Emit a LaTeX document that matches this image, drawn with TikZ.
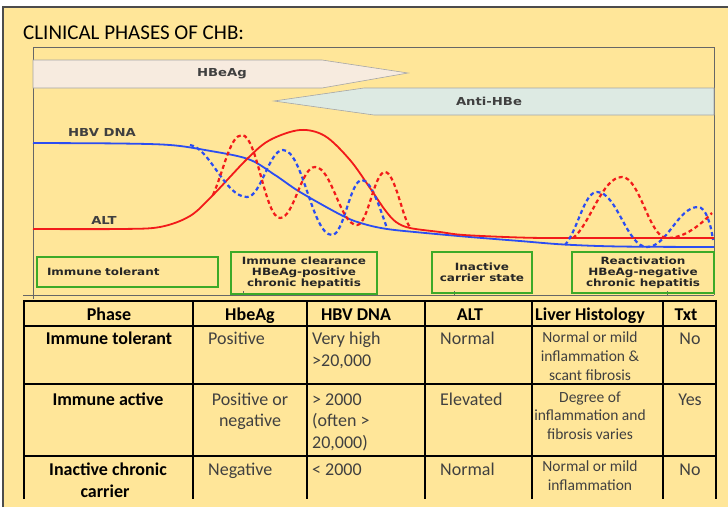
\documentclass[tikz,border=0pt]{standalone}
\usepackage{fontspec}
\setmainfont{Carlito}
\newfontfamily\chartfont[FakeStretch=1.2]{DejaVu Sans}
\definecolor{bgyellow}{HTML}{FFE699}
\definecolor{hbeagfill}{HTML}{F7EBDF}
\definecolor{antifill}{HTML}{DDEAE3}
\definecolor{dnablue}{HTML}{2B4DF2}
\definecolor{altred}{HTML}{F21A1A}
\definecolor{gboxc}{HTML}{3CAA28}
\begin{document}
\begin{tikzpicture}[x=1pt,y=-1pt,
  frame/.style={draw=black!60,line width=0.9pt},
  lbl/.style={font=\chartfont\bfseries\fontsize{11}{13}\selectfont,text=black!75,inner sep=0pt},
  gbox/.style={draw=gboxc,line width=2.5pt,font=\chartfont\bfseries\fontsize{10}{11}\selectfont,text=black!85,align=center,inner sep=0pt},
  dnaline/.style={draw=dnablue,line width=1.8pt},
  altline/.style={draw=altred,line width=1.8pt},
  dnadash/.style={draw=dnablue,line width=2.2pt,dash pattern=on 4pt off 3pt},
  altdash/.style={draw=altred,line width=2.2pt,dash pattern=on 4pt off 3pt},
  tline/.style={draw=black,line width=2pt},
  th/.style={font=\bfseries\fontsize{18}{20}\selectfont,text=black,anchor=base,inner sep=0pt},
  td/.style={font=\fontsize{18}{20}\selectfont,text=black!75,anchor=base west,inner sep=0pt},
  tdc/.style={font=\fontsize{18}{20}\selectfont,text=black!75,anchor=base,inner sep=0pt},
  lh/.style={font=\fontsize{15.5}{19}\selectfont,text=black!75,anchor=base,inner sep=0pt}
]
\useasboundingbox (0,0) rectangle (728,507);
\fill[white] (0,0) rectangle (728,507);
\fill[bgyellow] (3,7) rectangle (728,507);
\draw[black!70,line width=1.2pt] (3,507) -- (3,7) -- (728,7);

\node[anchor=base west,inner sep=0pt,font=\fontsize{21}{25}\selectfont] (title) at (23,39) {CLINICAL PHASES OF CHB:};

% chart frame
\draw[frame] (33,299) -- (33,47) -- (714,47) -- (714,295);
\draw[frame] (23,295) -- (714,295);
\foreach \tx in {243,454,667} \draw[frame] (\tx,295) -- (\tx,291);

% serology bars
\draw[fill=hbeagfill,draw=black!35,line width=0.6pt] (33,60) -- (322,60) -- (408,73) -- (322,88) -- (33,88) -- cycle;
\node[lbl] (hbeag) at (222,74) {HBeAg};
\draw[fill=antifill,draw=black!35,line width=0.6pt] (714,88) -- (364,88) -- (274,101) -- (374,115) -- (714,115) -- cycle;
\node[lbl] (anti) at (489,101) {Anti-HBe};

% curves
\draw[dnaline] plot[smooth,tension=0.55] coordinates {(33,143) (120,143.5) (170,145) (205,150) (248,159) (275,175) (300,192) (343,216) (364,224) (387,229) (420,232.5) (470,237) (520,241) (564,244.5) (620,246.5) (714,247)};
\draw[altline] plot[smooth,tension=0.55] coordinates {(33,229) (120,229) (160,227) (190,216) (213,195) (248,158) (270,140) (300,130) (325,136) (350,160) (370,188) (385,210) (396,222) (410,228) (440,232) (464,235) (520,237.5) (564,238) (714,238)};

\draw[dnadash] (190,145) .. controls (210,148) and (225,197) .. (247,197)
  .. controls (261,197) and (269,150) .. (283,150)
  .. controls (303,150) and (312,235) .. (332,235)
  .. controls (344,235) and (350,180) .. (362,180)
  .. controls (372,180) and (382,215) .. (387,228);
\draw[altdash] (213,195) .. controls (224,170) and (230,135) .. (242,135)
  .. controls (257,135) and (265,218) .. (280,218)
  .. controls (294,218) and (301,167) .. (315,167)
  .. controls (332,167) and (340,225) .. (357,225)
  .. controls (368,225) and (374,172) .. (385,172)
  .. controls (395,172) and (403,220) .. (410,227);

\draw[dnadash] (565,245) .. controls (578,230) and (584,192) .. (597,192)
  .. controls (617,192) and (627,247) .. (647,247)
  .. controls (667,247) and (678,207) .. (698,207)
  .. controls (706,207) and (711,225) .. (713,240);
\draw[altdash] (573,238) .. controls (590,225) and (602,177) .. (622,177)
  .. controls (640,177) and (649,238) .. (667,238)
  .. controls (685,238) and (700,225) .. (712,213);

\node[lbl] (dnalbl) at (102,132) {HBV DNA};
\node[lbl] (altlbl) at (104,220) {ALT};

% phase boxes
\node[gbox,minimum width=181pt,minimum height=30pt,text width=161pt,align=left] (p1) at (127.5,272) {Immune tolerant};
\node[gbox,minimum width=146pt,minimum height=42pt] (p2) at (304,273) {Immune clearance\\HBeAg-positive\\chronic hepatitis};
\node[gbox,minimum width=100pt,minimum height=41pt] (p3) at (482,272.5) {Inactive\\carrier state};
\node[gbox,minimum width=142pt,minimum height=41pt] (p4) at (643,272.5) {Reactivation\\HBeAg-negative\\chronic hepatitis};

% table
\draw[tline] (24,301) -- (716,301);
\foreach \cx in {24,193,307,425,532,663,716} \draw[tline] (\cx,300) -- (\cx,499);
\foreach \ry in {326,384,456} \draw[tline] (24,\ry) -- (716,\ry);

\node[th] (h1) at (109,320) {Phase};
\node[th] (h2) at (250,320) {HbeAg};
\node[th] (h3) at (356,320) {HBV DNA};
\node[th] (h4) at (470,320) {ALT};
\node[th] (h5) at (590,320) {Liver Histology};
\node[th] (h6) at (686,320) {Txt};

\node[th] (r1c1) at (109,344) {Immune tolerant};
\node[td] (r1c2) at (208,344) {Positive};
\node[td] (r1c3a) at (312,344) {Very high};
\node[td] (r1c3b) at (312,366) {>20,000};
\node[td] (r1c4) at (440,344) {Normal};
\node[lh] (r1c5a) at (590,342) {Normal or mild};
\node[lh] (r1c5b) at (590,361) {inflammation \&};
\node[lh] (r1c5c) at (590,380) {scant fibrosis};
\node[tdc] (r1c6) at (690,344) {No};

\node[th] (r2c1) at (108,405) {Immune active};
\node[tdc] (r2c2a) at (250,405) {Positive or};
\node[tdc] (r2c2b) at (250,426) {negative};
\node[td] (r2c3a) at (312,405) {> 2000};
\node[td] (r2c3b) at (312,426.5) {(often >};
\node[td] (r2c3c) at (312,448) {20,000)};
\node[td] (r2c4) at (440,405) {Elevated};
\node[lh] (r2c5a) at (590,402) {Degree of};
\node[lh] (r2c5b) at (590,420.5) {inflammation and};
\node[lh] (r2c5c) at (590,439) {fibrosis varies};
\node[tdc] (r2c6) at (690,405) {Yes};

\node[th] (r3c1a) at (108,475) {Inactive chronic};
\node[th] (r3c1b) at (105,497) {carrier};
\node[td] (r3c2) at (208,475) {Negative};
\node[td] (r3c3) at (312,475) {< 2000};
\node[td] (r3c4) at (440,475) {Normal};
\node[lh] (r3c5a) at (590,471) {Normal or mild};
\node[lh] (r3c5b) at (590,490) {inflammation};
\node[tdc] (r3c6) at (690,475) {No};
\end{tikzpicture}
\end{document}
